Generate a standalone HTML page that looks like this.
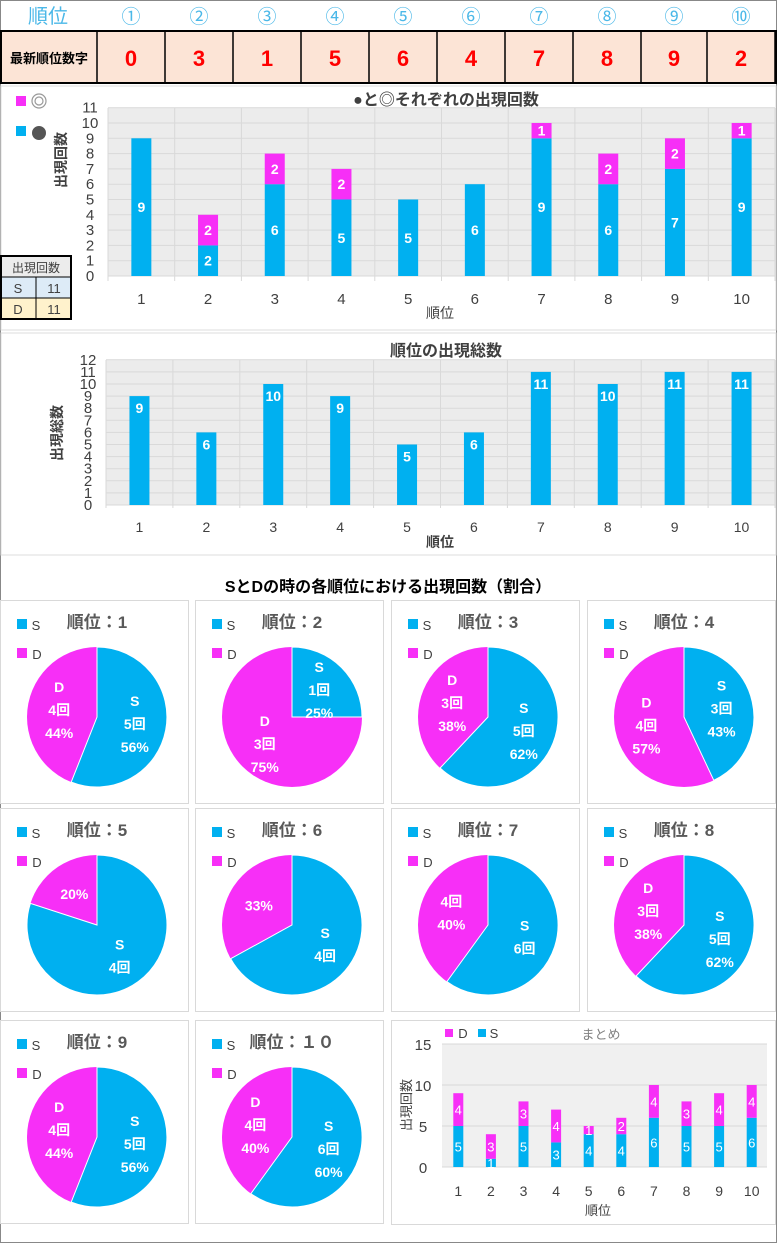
<!DOCTYPE html>
<html><head><meta charset="utf-8">
<style>
body{margin:0;background:#fff;font-family:"Liberation Sans","Noto Sans CJK JP",sans-serif;}
svg{display:block}
</style></head><body>
<svg id="s" width="777" height="1243" viewBox="0 0 777 1243" xmlns="http://www.w3.org/2000/svg" font-family="Liberation Sans, Noto Sans CJK JP, sans-serif">
</svg>
<script>
const C='#00b0f0',M='#f72ff7';
let h='';
function R(x,y,w,hh,f,st,sw){h+=`<rect x="${x}" y="${y}" width="${w}" height="${hh}" fill="${f||'none'}" ${st?`stroke="${st}" stroke-width="${sw||1}"`:''}/>`;}
function T(x,y,t,sz,f,o){o=o||'';h+=`<text x="${x}" y="${y}" font-size="${sz}" fill="${f}" text-anchor="middle" ${o}>${t}</text>`;}
function L(x1,y1,x2,y2,c,w){h+=`<line x1="${x1}" y1="${y1}" x2="${x2}" y2="${y2}" stroke="${c}" stroke-width="${w||1}"/>`;}
R(0.5,0.5,776,1242,'none','#888',1);
const cols=[97,165,233,301,369,437,505,573,641,707,775];
T(48,23,'順位',20,'#4bb8e8');
const circ=['①','②','③','④','⑤','⑥','⑦','⑧','⑨','⑩'];
const nums=[0,3,1,5,6,4,7,8,9,2];
R(1,31,775,52,'#fce4d6');
for(let i=0;i<10;i++){const cx=(cols[i]+cols[i+1])/2;T(cx,23,circ[i],19,'#4bb8e8','font-weight="normal"');T(cx,66,nums[i],22,'#ff0000','font-weight="bold"');}
R(1,31,775,52,'none','#000',2);
for(const x of cols)L(x,31,x,83,'#000',1.5);
T(49,63,'最新順位数字',13,'#000','font-weight="bold"');
R(1,86,775,244,'none','#ddd');R(1,333,775,222,'none','#ddd');
let x0=108,y0=276,u=15.3,cw=66.7;
R(x0,108,667,168,'#ececec');
for(let k=0;k<=11;k++){L(x0,y0-k*u,775,y0-k*u,'#d9d9d9');T(90,y0-k*u+5,k,15,'#404040');}
for(let i=0;i<=10;i++)L(x0+i*cw,108,x0+i*cw,281,'#d9d9d9');
const b1=[[9,0],[2,2],[6,2],[5,2],[5,0],[6,0],[9,1],[6,2],[7,2],[9,1]];
b1.forEach((b,i)=>{const cx=x0+cw*(i+.5);R(cx-10,y0-b[0]*u,20,b[0]*u,C);T(cx,y0-b[0]*u/2+5,b[0],14,'#fff','font-weight="bold"');
 if(b[1]){R(cx-10,y0-(b[0]+b[1])*u,20,b[1]*u,M);T(cx,y0-(b[0]+b[1]/2)*u+5,b[1],14,'#fff','font-weight="bold"');}
 T(cx,304,i+1,15,'#404040');});
T(440,318,'順位',14,'#404040');
T(446,105,'●と◎それぞれの出現回数',16,'#404040','font-weight="bold"');
h+=`<text x="66" y="160" font-size="14" fill="#404040" font-weight="bold" text-anchor="middle" transform="rotate(-90 66 160)">出現回数</text>`;
R(16,96,10,10,M);
h+=`<circle cx="39" cy="101" r="7" fill="none" stroke="#999" stroke-width="1.2"/><circle cx="39" cy="101" r="4" fill="none" stroke="#999" stroke-width="1.2"/>`;
R(16,126,10,10,C);h+=`<circle cx="39" cy="133" r="7" fill="#555"/>`;
R(1,256,70,21,'#ececec');R(1,277,35,21,'#ddebf7');R(36,277,35,21,'#ddebf7');R(1,298,70,21,'#fff2cc');
R(1,256,70,63,'none','#000',2);L(1,277,71,277,'#000');L(1,298,71,298,'#000');L(36,277,36,319,'#000');
T(36,272,'出現回数',12,'#404040');T(18,293,'S',13,'#404040');T(54,293,'11',13,'#404040');T(18,314,'D',13,'#404040');T(54,314,'11',13,'#404040');
x0=106;y0=505;u=12.1;cw=66.9;
R(x0,360,669,145,'#ececec');
for(let k=0;k<=12;k++){L(x0,y0-k*u,775,y0-k*u,'#d9d9d9');T(88,y0-k*u+5,k,15,'#404040');}
for(let i=0;i<=10;i++)L(x0+i*cw,360,x0+i*cw,508,'#d9d9d9');
const b2=[9,6,10,9,5,6,11,10,11,11];
b2.forEach((b,i)=>{const cx=x0+cw*(i+.5);R(cx-10,y0-b*u,20,b*u,C);T(cx,y0-b*u+17,b,14,'#fff','font-weight="bold"');T(cx,532,i+1,14,'#404040');});
T(440,547,'順位',14,'#404040','font-weight="bold"');
T(446,356,'順位の出現総数',16,'#404040','font-weight="bold"');
h+=`<text x="62" y="433" font-size="14" fill="#404040" font-weight="bold" text-anchor="middle" transform="rotate(-90 62 433)">出現総数</text>`;
T(388,592,'SとDの時の各順位における出現回数（割合）',16,'#000','font-weight="bold"');
const px=[0,195,391,587],py=[600,808,1020];
const pies=[
 [1,56,5,4,'S|5回|56%','D|4回|44%'],[2,25,1,3,'S|1回|25%','D|3回|75%'],[3,62,5,3,'S|5回|62%','D|3回|38%'],[4,43,3,4,'S|3回|43%','D|4回|57%'],
 [5,80,4,1,'S|4回','20%'],[6,67,4,2,'S|4回','33%'],[7,60,6,4,'S|6回','4回|40%'],[8,62,5,3,'S|5回|62%','D|3回|38%'],
 [9,56,5,4,'S|5回|56%','D|4回|44%'],[10,60,6,4,'S|6回|60%','D|4回|40%']];
pies.forEach((p,i)=>{
 const bx=px[i%4],by=py[Math.floor(i/4)];
 R(bx+0.5,by+0.5,188,203,'#fff','#d9d9d9');
 const cx=bx+97,cy=by+117,r=70;
 const th=p[1]/100*2*Math.PI,ex=cx+r*Math.sin(th),ey=cy-r*Math.cos(th),lg=p[1]>50?1:0;
 h+=`<circle cx="${cx}" cy="${cy}" r="${r}" fill="${M}"/>`;
 h+=`<path d="M${cx},${cy} L${cx},${cy-r} A${r},${r} 0 ${lg} 1 ${ex.toFixed(1)},${ey.toFixed(1)} Z" fill="${C}" stroke="#fff" stroke-width="1"/>`;
 const a1=th/2,a2=(th+2*Math.PI)/2;
 [[p[4],a1],[p[5],a2]].forEach(([t,a])=>{const ls=t.split('|');const lx=cx+r*0.55*Math.sin(a),ly=cy-r*0.55*Math.cos(a);
  ls.forEach((s,j)=>T(lx,ly+(j-(ls.length-1)/2)*23+5,s,14,'#fff','font-weight="bold"'));});
 R(bx+17,by+19,10,10,C);T(bx+36,by+30,'S',13,'#404040');R(bx+17,by+48,10,10,M);T(bx+37,by+59,'D',13,'#404040');
 T(bx+97,by+28,'順位：'+(p[0]==10?'１０':p[0]),17,'#595959','font-weight="bold"');
});
R(391.5,1020.5,384,204,'#fff','#d9d9d9');
x0=442;y0=1167;u=8.2;cw=32.6;
R(x0,1044,325,123,'#f0f0f0');
for(const k of [0,5,10,15]){L(x0,y0-k*u,767,y0-k*u,'#d9d9d9');T(423,y0-k*u+6,k,15,'#404040');}
const sd=[[5,4],[1,3],[5,3],[3,4],[4,1],[4,2],[6,4],[5,3],[5,4],[6,4]];
sd.forEach((b,i)=>{const cx=x0+cw*(i+.5);R(cx-5,y0-b[0]*u,10,b[0]*u,C);R(cx-5,y0-(b[0]+b[1])*u,10,b[1]*u,M);
 T(cx,y0-b[0]*u/2+5,b[0],13,'#fff');T(cx,y0-(b[0]+b[1]/2)*u+5,b[1],13,'#fff');T(cx,1196,i+1,14,'#404040');});
T(598,1215,'順位',13,'#404040');
h+=`<text x="411" y="1105" font-size="13" fill="#404040" text-anchor="middle" transform="rotate(-90 411 1105)">出現回数</text>`;
R(445,1029,8,8,M);T(463,1038,'D',13,'#404040');R(478,1029,8,8,C);T(494,1038,'S',13,'#404040');T(601,1039,'まとめ',13,'#808080');
document.getElementById('s').innerHTML=h;
</script>
</body></html>
